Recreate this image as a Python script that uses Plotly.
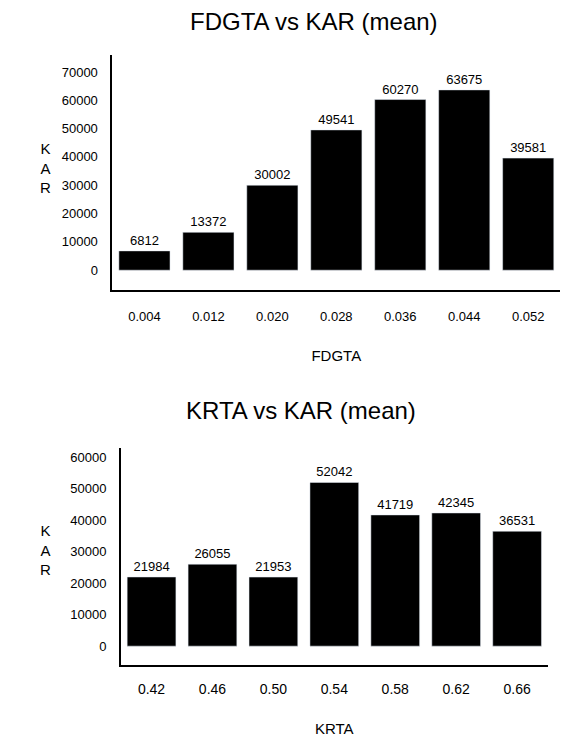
import plotly.graph_objects as go

fd_cats = ["0.004", "0.012", "0.020", "0.028", "0.036", "0.044", "0.052"]
fd_vals = [6812, 13372, 30002, 49541, 60270, 63675, 39581]
kr_cats = ["0.42", "0.46", "0.50", "0.54", "0.58", "0.62", "0.66"]
kr_vals = [21984, 26055, 21953, 52042, 41719, 42345, 36531]

F = "Liberation Sans"
fig = go.Figure()
fig.add_bar(x=fd_cats, y=fd_vals, text=[str(v) for v in fd_vals], textposition="outside",
            marker_color="black", width=0.8, xaxis="x", yaxis="y", cliponaxis=False,
            textfont=dict(size=13, color="black"))
fig.add_bar(x=kr_cats, y=kr_vals, text=[str(v) for v in kr_vals], textposition="outside",
            marker_color="black", width=0.8, xaxis="x2", yaxis="y2", cliponaxis=False,
            textfont=dict(size=13, color="black"))

ax = dict(showgrid=False, zeroline=False, ticks="", tickfont=dict(size=13, color="black"),
          automargin=False)
fig.update_layout(
    width=574, height=742, margin=dict(l=0, r=0, t=0, b=0),
    paper_bgcolor="white", plot_bgcolor="white", showlegend=False,
    font=dict(family=F, color="black"),
    xaxis=dict(**ax, domain=[0.182, 0.962], anchor="y", showline=True, linecolor="black", linewidth=2,
               ticklabelstandoff=13, title=dict(text="FDGTA", font=dict(size=15), standoff=28)),
    yaxis=dict(**ax, domain=[1 - 282/742, 1 - 47/742], anchor="x", range=[-7000, 76000], showline=True,
               linecolor="black", linewidth=2, tickvals=list(range(0, 70001, 10000)),
               tickformat="d", ticklabelstandoff=10),
    xaxis2=dict(**ax, domain=[0.197, 0.94], anchor="y2", showline=True, linecolor="black", linewidth=2,
                ticklabelstandoff=10, title=dict(text="KRTA", font=dict(size=15), standoff=28)),
    yaxis2=dict(**ax, domain=[1 - 657/742, 1 - 440/742], anchor="x2", range=[-6000, 63000], showline=True,
                linecolor="black", linewidth=2, tickvals=list(range(0, 60001, 10000)),
                tickformat="d", ticklabelstandoff=10),
    annotations=[
        dict(text="FDGTA vs KAR (mean)", x=0.533, y=1 - 14/742, xref="paper", yref="paper",
             yanchor="middle", showarrow=False, font=dict(size=24)),
        dict(text="KRTA vs KAR (mean)", x=0.51, y=1 - 402/742, xref="paper", yref="paper",
             yanchor="middle", showarrow=False, font=dict(size=24)),
        dict(text="K<br>A<br>R", x=30/574, y=1 - 160/742, xref="paper", yref="paper",
             yanchor="middle", showarrow=False, font=dict(size=15)),
        dict(text="K<br>A<br>R", x=30/574, y=1 - 542/742, xref="paper", yref="paper",
             yanchor="middle", showarrow=False, font=dict(size=15)),
    ],
)
fig.update_xaxes(tickfont_size=14, selector=dict(anchor="y2"))
fig.write_html("out.html")
